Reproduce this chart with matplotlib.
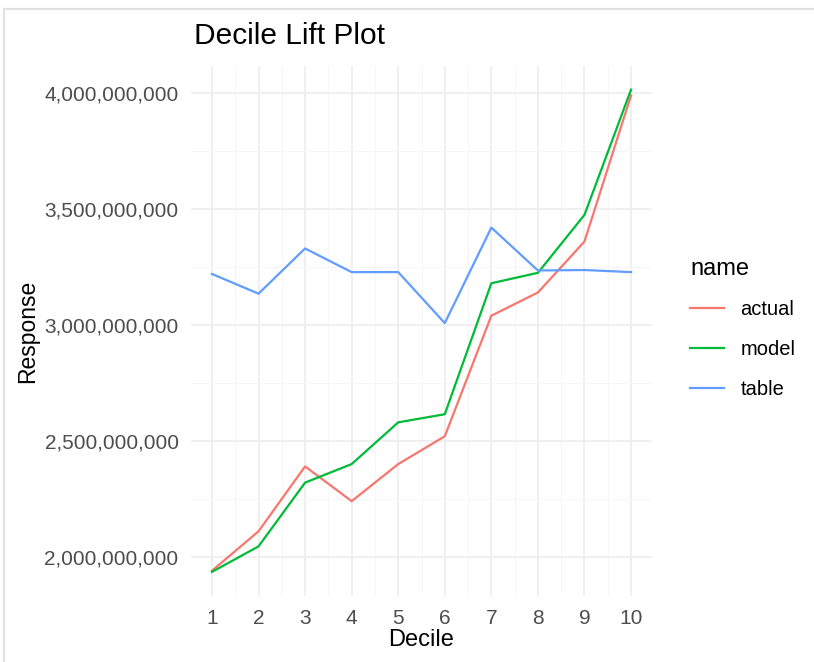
import numpy as np
import matplotlib.pyplot as plt
from matplotlib.lines import Line2D
from matplotlib.ticker import FuncFormatter, MultipleLocator

plt.rcParams['font.family'] = ['Liberation Sans', 'DejaVu Sans']

# Data
decile = np.arange(1, 11)
actual = [1.94e9, 2.11e9, 2.39e9, 2.24e9, 2.40e9, 2.52e9, 3.04e9, 3.14e9, 3.36e9, 3.99e9]
model  = [1.935e9, 2.045e9, 2.32e9, 2.40e9, 2.58e9, 2.615e9, 3.18e9, 3.225e9, 3.475e9, 4.015e9]
table  = [3.22e9, 3.135e9, 3.33e9, 3.228e9, 3.228e9, 3.008e9, 3.42e9, 3.235e9, 3.237e9, 3.228e9]
names  = ['actual', 'model', 'table']
colors = ['#F8766D', '#00BA38', '#619CFF']

fig = plt.figure(figsize=(8.14, 6.62), dpi=100)
ax = fig.add_axes([191/814, 1-596/662, (652-191)/814, (596-66)/662])

for y, nm, c in zip([actual, model, table], names, colors):
    ax.plot(decile, y, color=c, lw=1.6, label=nm)

ax.set_xlim(0.55, 10.45)
ax.set_ylim(1.831e9, 4.117e9)
ax.set_xticks(decile)
ax.xaxis.set_minor_locator(MultipleLocator(0.5))
ax.yaxis.set_major_locator(MultipleLocator(5e8))
ax.yaxis.set_minor_locator(MultipleLocator(2.5e8))
ax.yaxis.set_major_formatter(FuncFormatter(lambda v, p: f'{v:,.0f}'))

ax.grid(which='major', color='#EEEEEE', lw=1.2)
ax.grid(which='minor', color='#F6F6F6', lw=0.7)
ax.set_axisbelow(True)
for s in ax.spines.values():
    s.set_visible(False)
ax.tick_params(which='both', length=0, labelsize=15, labelcolor='#4D4D4D')
ax.tick_params(axis='y', pad=9)
ax.tick_params(axis='x', pad=9)

ax.set_xlabel('Decile', fontsize=17)
ax.set_ylabel('Response', fontsize=16.5)
ax.xaxis.set_label_coords(0.5, -(640-596)/530)
ax.yaxis.set_label_coords(-(191-28)/461, 0.5)
ax.xaxis.label.set_va('center')
ax.yaxis.label.set_va('center')

fig.text(194/814, 1-36/662, 'Decile Lift Plot', fontsize=21.5, va='center', ha='left')

leg = fig.legend(loc='upper left', bbox_to_anchor=(672/814, 1-240/662), frameon=False,
                 title='name', title_fontsize=17, fontsize=14.5, handlelength=1.7,
                 handletextpad=0.8, labelspacing=1.05, alignment='left')
leg._legend_box.sep = 14

# screenshot frame
fig.add_artist(Line2D([4/814, 1], [1-9/662, 1-9/662], color='#E2E2E2', lw=1.5))
fig.add_artist(Line2D([4/814, 4/814], [0, 1-9/662], color='#E2E2E2', lw=1.5))

plt.savefig('out.png', dpi=100)
